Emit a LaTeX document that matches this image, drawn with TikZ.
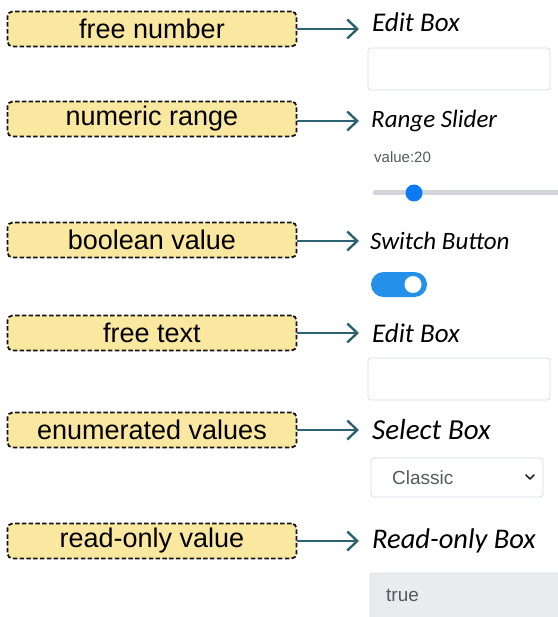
\documentclass[tikz,border=0pt]{standalone}
\usepackage{fontspec}
\setmainfont{Liberation Sans}
\newfontfamily\calib{Carlito}
\usetikzlibrary{arrows.meta}
\definecolor{boxfill}{HTML}{FBE8A0}
\definecolor{arrowc}{HTML}{2E6272}
\definecolor{inborder}{HTML}{D5DCE3}
\definecolor{bsblue}{HTML}{0A7BF5}
\definecolor{swblue}{HTML}{2490EA}
\definecolor{trackc}{HTML}{D2D6DB}
\definecolor{rofill}{HTML}{E9ECEF}
\definecolor{graytext}{HTML}{555A60}
\tikzset{
  typebox/.style={draw=black!92, fill=boxfill, dash pattern=on 4.5pt off 2.3pt, line width=1.8pt, rounded corners=5pt,
    minimum width=289pt, minimum height=35pt, inner sep=0pt, font=\fontsize{27}{29}\selectfont},
  ctrl/.style={anchor=west, inner sep=0pt, font=\calib\itshape\fontsize{#1}{#1}\selectfont},
  conn/.style={-{Straight Barb[length=10pt,width=19pt]}, draw=arrowc, line width=2.4pt},
  inbox/.style={draw=inborder, line width=0.8pt, rounded corners=3pt, fill=white}
}
\begin{document}
\begin{tikzpicture}[x=1pt,y=-1pt]
\useasboundingbox (0,0) rectangle (557,617);
\fill[white] (0,0) rectangle (557,617);
% type boxes
\node[typebox] (b1) at (152,29) {free number};
\node[typebox] (b2) at (152,119) {numeric range};
\node[typebox] (b3) at (152,240) {boolean value};
\node[typebox] (b4) at (152,333) {free text};
\node[typebox] (b5) at (152,430) {enumerated values};
\node[typebox] (b6) at (152,541) {read-only value};
% control labels
\node[ctrl=27] (c1) at (372,22) {Edit Box};
\node[ctrl=25] (c2) at (371,121) {Range Slider};
\node[ctrl=25] (c3) at (370,241) {Switch Button};
\node[ctrl=27] (c4) at (372,333) {Edit Box};
\node[ctrl=29] (c5) at (372,430) {Select Box};
\node[ctrl=28.5] (c6) at (372,541) {Read-only Box};
% connectors
\coordinate (t1) at (359,29);
\coordinate (t2) at (359,121);
\coordinate (t3) at (359,241);
\coordinate (t4) at (359,333);
\coordinate (t5) at (359,430);
\coordinate (t6) at (359,541);
\draw[conn] (b1.east) -- (t1);
\draw[conn] (b2.east |- t2) -- (t2);
\draw[conn] (b3.east |- t3) -- (t3);
\draw[conn] (b4.east) -- (t4);
\draw[conn] (b5.east) -- (t5);
\draw[conn] (b6.east) -- (t6);
% edit box 1
\draw[inbox] (368,48) rectangle (550,90);
% range slider
\node[anchor=west, inner sep=0pt, text=graytext, font=\fontsize{15}{17}\selectfont] (v) at (374,157) {value:20};
\draw[trackc, line width=5pt, line cap=round] (375,193) -- (560,193);
\fill[bsblue] (414,193) circle (8.5);
% switch
\fill[swblue, rounded corners=12.5pt] (371,272) rectangle (427,297);
\fill[white] (413,284.5) circle (8.5);
% edit box 2
\draw[inbox] (368,358) rectangle (550,400);
% select box
\draw[inbox] (371,458) rectangle (543,497);
\node[anchor=west, inner sep=0pt, text=graytext, font=\fontsize{19}{21}\selectfont] (sel) at (392,477.5) {Classic};
\draw[black!85, line width=1.6pt, line cap=round, line join=round] (526,475) -- (530,479) -- (534,475);
% read-only box
\draw[inbox, fill=rofill] (370,573) rectangle (565,625);
\node[anchor=west, inner sep=0pt, text=graytext, font=\fontsize{19}{21}\selectfont] (ro) at (386,595) {true};
\end{tikzpicture}
\end{document}
